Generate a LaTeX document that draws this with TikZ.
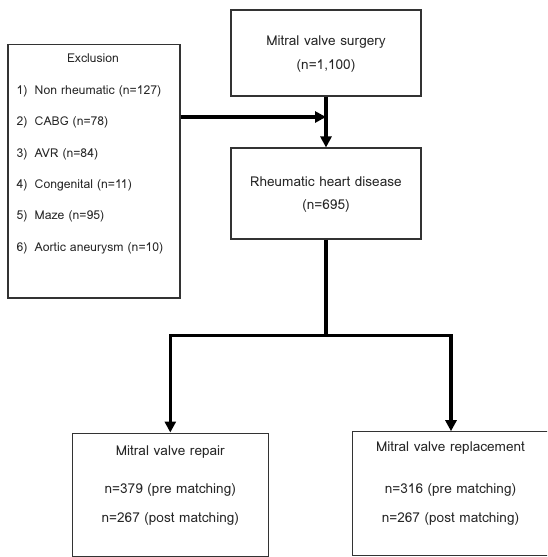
\documentclass[tikz,border=0pt]{standalone}
\usepackage{fontspec}
\setmainfont{Loma}
\usetikzlibrary{arrows.meta}
\begin{document}
\begin{tikzpicture}[x=1pt,y=-1pt,
  box/.style={draw=black!80,line width=1.1pt},
  txt/.style={inner sep=0pt,font=\fontsize{13.6}{15}\selectfont,text=black!85},
  etxt/.style={txt,font=\fontsize{12.2}{14}\selectfont},
  conn/.style={line width=3.2pt,black},
  arr/.style={conn,-{Triangle[length=11pt,width=11pt]}}]
\useasboundingbox (0,0) rectangle (547,557);
\begin{scope}
\clip (0,0) rectangle (547,557);
% boxes
\node (excl) at (94,171.35) [box,minimum width=172pt,minimum height=253.3pt,inner sep=0pt] {};
\node (surg) at (326,53) [box,minimum width=190pt,minimum height=86pt,inner sep=0pt] {};
\node (rhd) at (326,193.5) [box,minimum width=190pt,minimum height=91pt,inner sep=0pt] {};
\node (rep) at (170.3,494.8) [box,minimum width=195.5pt,minimum height=123.5pt,inner sep=0pt] {};
\node (repl) at (451,493.5) [box,minimum width=197pt,minimum height=123.5pt,inner sep=0pt] {};
\end{scope}
% texts
\node[etxt] (t0) at (93,58) {Exclusion};
\node[etxt,anchor=west] (t1) at (16.5,91.7) {\makebox[18pt][l]{1)}Non rheumatic (n=127)};
\node[etxt,anchor=west] (t2) at (16.5,122.7) {\makebox[18pt][l]{2)}CABG (n=78)};
\node[etxt,anchor=west] (t3) at (16.5,154) {\makebox[18pt][l]{3)}AVR (n=84)};
\node[etxt,anchor=west] (t4) at (16.5,185) {\makebox[18pt][l]{4)}Congenital (n=11)};
\node[etxt,anchor=west] (t5) at (16.5,216.7) {\makebox[18pt][l]{5)}Maze (n=95)};
\node[etxt,anchor=west] (t6) at (16.5,248) {\makebox[18pt][l]{6)}Aortic aneurysm (n=10)};
\node[txt] (s1) at (326,42) {Mitral valve surgery};
\node[txt] (s2) at (326,66) {(n=1,100)};
\node[txt] (r1) at (326,182) {Rheumatic heart disease};
\node[txt] (r2) at (326,206) {(n=695)};
\node[txt] (p1) at (170.3,452) {Mitral valve repair};
\node[txt] (p2) at (170.3,490) {n=379 (pre matching)};
\node[txt] (p3) at (170.3,519) {n=267 (post matching)};
\node[txt] (q1) at (450.5,448) {Mitral valve replacement};
\node[txt] (q2) at (450.5,490) {n=316 (pre matching)};
\node[txt] (q3) at (450.5,519) {n=267 (post matching)};
% connectors
\coordinate (join) at (326,117);
\coordinate (split) at (326,335.7);
\draw[arr] (surg.south) -- (rhd.north);
\draw[arr] (excl.east |- join) -- (join);
\draw[conn] (rhd.south) -- (split);
\draw[arr] (split) -| (rep.north);
\draw[arr] (split) -| (repl.north);
\end{tikzpicture}
\end{document}
